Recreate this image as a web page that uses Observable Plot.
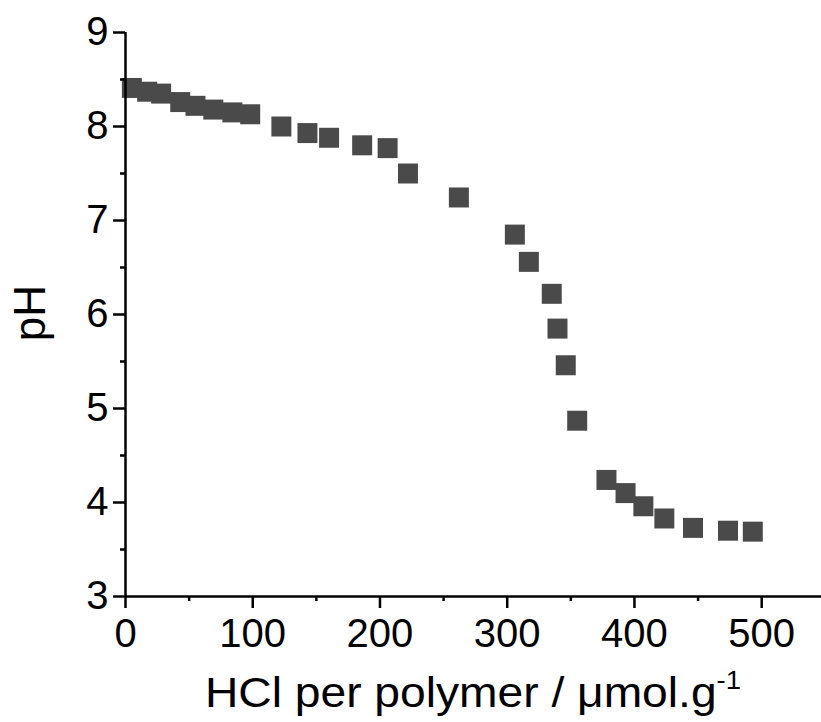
<!DOCTYPE html>
<html><head><meta charset="utf-8">
<script src="https://cdn.jsdelivr.net/npm/d3@7"></script>
<script src="https://cdn.jsdelivr.net/npm/@observablehq/plot@0.6"></script>
<style>body{margin:0;background:#fff;overflow:hidden}</style>
</head><body><div id="chart"></div>
<script>
const hcl = [5, 17, 28, 43, 55, 69, 84, 98, 122.5, 143, 160, 186, 206, 222, 262, 306, 317, 335, 339.5, 346, 355, 378, 393, 407, 423.5, 446, 473.5, 493];
const pH  = [8.41, 8.37, 8.35, 8.26, 8.22, 8.18, 8.15, 8.13, 8.00, 7.93, 7.88, 7.80, 7.77, 7.50, 7.245, 6.85, 6.56, 6.22, 5.85, 5.46, 4.87, 4.24, 4.10, 3.96, 3.83, 3.73, 3.70, 3.69];
const xMajor = [0, 100, 200, 300, 400, 500];
const xMinor = [50, 150, 250, 350, 450];
const yMajor = [3, 4, 5, 6, 7, 8, 9];
const yMinor = [3.5, 4.5, 5.5, 6.5, 7.5, 8.5];
const xLabel = "HCl per polymer / \u03bcmol.g";
const xLabelSup = "-1";
const yLabel = "pH";

const data = hcl.map((x, i) => ({x, y: pH[i]}));

const chart = Plot.plot({
  width: 821, height: 722,
  marginLeft: 125, marginRight: 0, marginTop: 32, marginBottom: 126,
  x: {domain: [0, 547]},
  y: {domain: [3, 9]},
  style: {fontFamily: "'Liberation Sans', Arial, sans-serif", fontSize: "40px", color: "#000", background: "#fff"},
  marks: [
    Plot.dot(data, {x: "x", y: "y", symbol: "square", r: 11.28, fill: "#4a4a4a", stroke: "none"}),
    Plot.axisY({ticks: yMinor, tickSize: 5, tickFormat: () => "", label: null, strokeWidth: 2.5, stroke: "#000"}),
    Plot.axisY({ticks: yMajor, tickSize: 12, tickPadding: 5, tickFormat: d => String(d), label: null, strokeWidth: 2.5, stroke: "#000"}),
    Plot.axisX({ticks: xMinor, tickSize: 5, tickFormat: () => "", label: null, strokeWidth: 2.5, stroke: "#000"}),
    Plot.axisX({ticks: xMajor, tickSize: 12, tickPadding: 10, tickFormat: d => String(d), label: null, strokeWidth: 2.5, stroke: "#000"}),
    Plot.ruleX([0], {y1: 3, y2: 9, strokeWidth: 2.5, stroke: "#000"}),
    Plot.ruleY([3], {strokeWidth: 2.5, stroke: "#000"})
  ]
});
document.getElementById("chart").append(chart);

const svg = d3.select(chart);
const t = svg.append("text")
  .attr("transform", "translate(473,707) scale(1.1,1)")
  .attr("text-anchor", "middle")
  .attr("font-size", 42)
  .attr("fill", "#000");
t.append("tspan").text(xLabel);
t.append("tspan").attr("dy", -18).attr("font-size", 25).text(xLabelSup);

svg.append("text")
  .attr("transform", "translate(45,313) rotate(-90)")
  .attr("text-anchor", "middle")
  .attr("font-size", 44)
  .attr("fill", "#000")
  .text(yLabel);
</script>
</body></html>
